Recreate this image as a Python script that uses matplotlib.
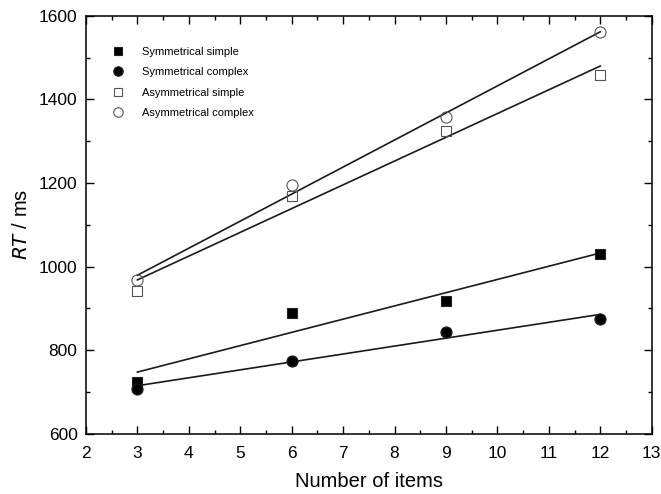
import numpy as np
import matplotlib
matplotlib.use("Agg")
from matplotlib import pyplot as plt
from matplotlib.ticker import MultipleLocator

plt.rcParams['font.family'] = ['Liberation Sans', 'DejaVu Sans']

items = [3, 6, 9, 12]
sym_simple = [723, 889, 918, 1030]
sym_complex = [708, 775, 843, 875]
asym_simple = [942, 1170, 1325, 1459]
asym_complex = [968, 1195, 1358, 1561]


def main():
    fig, ax = plt.subplots(figsize=(6.61, 4.94), dpi=100)
    fig.subplots_adjust(left=0.13, right=0.986, top=0.968, bottom=0.122)

    series = [
        (sym_simple, 's', 'k', 'Symmetrical simple', 7),
        (sym_complex, 'o', 'k', 'Symmetrical complex', 8),
        (asym_simple, 's', 'none', 'Asymmetrical simple', 7),
        (asym_complex, 'o', 'none', 'Asymmetrical complex', 8),
    ]
    x = np.array(items)
    for y, m, fc, lab, ms in series:
        ax.plot(x, y, linestyle='none', marker=m, markersize=ms,
                markerfacecolor=fc, markeredgecolor='#222222' if fc == 'k' else '#555555',
                markeredgewidth=0.8, label=lab, zorder=3)
        # linear fit line
        k, b = np.polyfit(x, y, 1)
        ax.plot([x[0], x[-1]], [k * x[0] + b, k * x[-1] + b], color='#1a1a1a', lw=1.2, zorder=2)

    ax.set_xlim(2, 13)
    ax.set_ylim(600, 1600)
    ax.xaxis.set_major_locator(MultipleLocator(1))
    ax.xaxis.set_minor_locator(MultipleLocator(0.5))
    ax.yaxis.set_major_locator(MultipleLocator(200))
    ax.yaxis.set_minor_locator(MultipleLocator(100))
    ax.tick_params(which='both', direction='in', top=True, right=True,
                   labeltop=False, labelright=False, width=1)
    ax.tick_params(which='major', length=6, labelsize=12.5)
    ax.tick_params(which='minor', length=3)
    ax.tick_params(axis='x', which='major', pad=9)
    ax.tick_params(axis='y', which='major', pad=6)
    for s in ax.spines.values():
        s.set_linewidth(1.1)

    ax.set_xlabel('Number of items', fontsize=14.5, labelpad=8)
    ax.set_ylabel(r'$\it{RT}$ / ms', fontsize=14.5, labelpad=6)

    ax.legend(loc='upper left', bbox_to_anchor=(0.02, 0.95), frameon=False,
              fontsize=8, handletextpad=1.1, labelspacing=0.95, markerscale=0.85)

    fig.savefig('out.png')
    return


if __name__ == "__main__":
    main()
